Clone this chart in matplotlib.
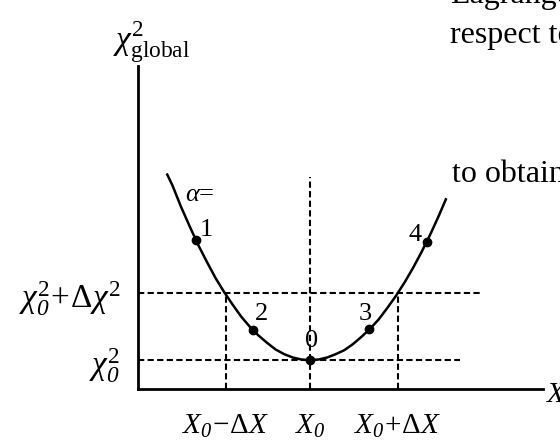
import matplotlib.pyplot as plt

plt.rcParams['mathtext.fontset'] = 'custom'
plt.rcParams['mathtext.rm'] = 'Liberation Serif'
plt.rcParams['mathtext.it'] = 'Liberation Serif:italic'
plt.rcParams['mathtext.bf'] = 'Liberation Serif:bold'
plt.rcParams['mathtext.sf'] = 'Liberation Serif:italic'  # italic digit subscripts
plt.rcParams['font.family'] = 'Liberation Serif'

# chi^2 profile along the scanned parameter X (X0 = 0, units of Delta X)
curve_x = [-1.66, -1.6, -1.5, -1.4, -1.3, -1.2, -1.1, -1.0, -0.9, -0.8, -0.7, -0.6,
           -0.5, -0.4, -0.3, -0.2, -0.1, 0.0, 0.1, 0.2, 0.3, 0.4, 0.5, 0.6, 0.7,
           0.8, 0.9, 1.0, 1.1, 1.2, 1.3, 1.4, 1.5, 1.58]
curve_chi2 = [3.20, 3.04, 2.72, 2.43, 2.15, 1.90, 1.66, 1.45, 1.26, 1.08, 0.93, 0.80,
              0.69, 0.59, 0.52, 0.47, 0.44, 0.43, 0.44, 0.47, 0.52, 0.58, 0.67, 0.78, 0.90,
              1.04, 1.21, 1.39, 1.59, 1.81, 2.05, 2.31, 2.59, 2.83]

# fits for the different Lagrange multipliers alpha
alpha_labels = ['0', '1', '2', '3', '4']
alpha_x = [0.0, -1.33, -0.66, 0.69, 1.36]
alpha_chi2 = [0.43, 2.23, 0.88, 0.89, 2.20]
label_x = [0.02, -1.21, -0.56, 0.64, 1.22]
label_y = [0.72, 2.37, 1.12, 1.12, 2.30]

chi0 = 0.43
dchi = 1.0
x_minus, x_plus = -0.98, 1.02

fig = plt.figure(figsize=(5.6, 4.48), dpi=100)
ax = fig.add_axes([138 / 560, 59 / 448, 405 / 560, 323 / 448])
ax.set_xlim(-2.0, 2.71)
ax.set_ylim(0, 4.82)
for s in ['top', 'right']:
    ax.spines[s].set_visible(False)
for s in ['left', 'bottom']:
    ax.spines[s].set_linewidth(2)

dash = dict(color='black', lw=1.5, ls=(0, (3, 1.6)))
ax.plot([-2.0, 2.0], [chi0 + dchi] * 2, **dash)
ax.plot([-2.0, 1.745], [chi0] * 2, **dash)
ax.plot([x_minus] * 2, [0, chi0 + dchi], **dash)
ax.plot([x_plus] * 2, [0, chi0 + dchi], **dash)
ax.plot([0, 0], [0, 3.16], **dash)

ax.plot(curve_x, curve_chi2, color='black', lw=1.8)
ax.plot(alpha_x, alpha_chi2, 'o', color='black', ms=6)
for t, lx, ly in zip(alpha_labels, label_x, label_y):
    ax.text(lx, ly, t, fontsize=19, ha='center', va='center')
ax.text(-1.28, 2.90, r'$\alpha$=', fontsize=19, ha='center', va='center')

ax.set_xticks([x_minus, 0, x_plus],
              labels=[r'$X_{\mathsf{0}}\!-\!\Delta X$', r'$X_{\mathsf{0}}$',
                      r'$X_{\mathsf{0}}\!+\!\Delta X$'])
ax.set_yticks([chi0, chi0 + dchi],
              labels=[r'$\chi^2_{\mathsf{0}}$', r'$\chi^2_{\mathsf{0}}\!+\!\Delta\chi^2$'])
ax.tick_params(length=0)
ax.tick_params(axis='x', pad=17, labelsize=21)
ax.tick_params(axis='y', pad=13, labelsize=24)

ax.text(-1.84, 5.18, r'$\chi^2_{\mathrm{global}}$', fontsize=24, ha='center',
        va='center', clip_on=False)
ax.text(2.74, -0.09, r'$X$', fontsize=21, ha='left', va='center', clip_on=False)

# surrounding page text
fig.text(450 / 560, 1 - 3 / 448, 'Lagrange', fontsize=23, va='baseline')
fig.text(450 / 560, 1 - 43 / 448, 'respect to', fontsize=23, va='baseline')
fig.text(452 / 560, 1 - 182 / 448, 'to obtain', fontsize=23, va='baseline')

fig.savefig('out.png', dpi=100)
